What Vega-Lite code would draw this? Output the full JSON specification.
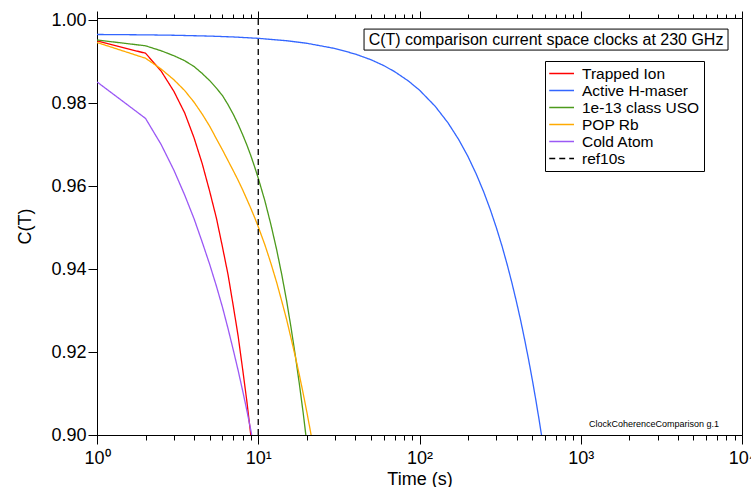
{
  "$schema": "https://vega.github.io/schema/vega-lite/v6.json",
  "autosize": {"type": "none"},
  "padding": {"left": 97, "top": 18, "right": 9, "bottom": 52},
  "width": 645,
  "height": 417,
  "background": "white",
  "config": {
    "font": "Liberation Sans",
    "view": {"stroke": "black", "strokeWidth": 1},
    "axis": {"domainColor": "black", "tickColor": "black", "labelColor": "black", "titleColor": "black", "grid": false, "labelFont": "Liberation Sans", "titleFont": "Liberation Sans", "titleFontWeight": "normal", "domainWidth": 1, "tickWidth": 1}
  },
  "data": {"values": [
    {"series": "Trapped Ion", "T": 1, "C": 0.9950},
    {"series": "Trapped Ion", "T": 2, "C": 0.9920},
    {"series": "Trapped Ion", "T": 2.5, "C": 0.9877},
    {"series": "Trapped Ion", "T": 3, "C": 0.9828},
    {"series": "Trapped Ion", "T": 3.5, "C": 0.9776},
    {"series": "Trapped Ion", "T": 4, "C": 0.9716},
    {"series": "Trapped Ion", "T": 4.5, "C": 0.9653},
    {"series": "Trapped Ion", "T": 5, "C": 0.9587},
    {"series": "Trapped Ion", "T": 5.5, "C": 0.9523},
    {"series": "Trapped Ion", "T": 6, "C": 0.9453},
    {"series": "Trapped Ion", "T": 6.5, "C": 0.9386},
    {"series": "Trapped Ion", "T": 7, "C": 0.9311},
    {"series": "Trapped Ion", "T": 7.5, "C": 0.9239},
    {"series": "Trapped Ion", "T": 8, "C": 0.9159},
    {"series": "Trapped Ion", "T": 8.5, "C": 0.9081},
    {"series": "Trapped Ion", "T": 9, "C": 0.8998},
    {"series": "Active H-maser", "T": 1, "C": 0.99653},
    {"series": "Active H-maser", "T": 2, "C": 0.99644},
    {"series": "Active H-maser", "T": 3, "C": 0.99634},
    {"series": "Active H-maser", "T": 5, "C": 0.99614},
    {"series": "Active H-maser", "T": 7, "C": 0.99593},
    {"series": "Active H-maser", "T": 10, "C": 0.9956},
    {"series": "Active H-maser", "T": 15, "C": 0.99502},
    {"series": "Active H-maser", "T": 20, "C": 0.99441},
    {"series": "Active H-maser", "T": 30, "C": 0.99314},
    {"series": "Active H-maser", "T": 40, "C": 0.99181},
    {"series": "Active H-maser", "T": 50, "C": 0.99044},
    {"series": "Active H-maser", "T": 60, "C": 0.98903},
    {"series": "Active H-maser", "T": 70, "C": 0.98759},
    {"series": "Active H-maser", "T": 85, "C": 0.98537},
    {"series": "Active H-maser", "T": 100, "C": 0.98311},
    {"series": "Active H-maser", "T": 125, "C": 0.97924},
    {"series": "Active H-maser", "T": 150, "C": 0.97527},
    {"series": "Active H-maser", "T": 175, "C": 0.97121},
    {"series": "Active H-maser", "T": 200, "C": 0.96708},
    {"series": "Active H-maser", "T": 225, "C": 0.96287},
    {"series": "Active H-maser", "T": 250, "C": 0.95861},
    {"series": "Active H-maser", "T": 275, "C": 0.95429},
    {"series": "Active H-maser", "T": 300, "C": 0.94991},
    {"series": "Active H-maser", "T": 325, "C": 0.94551},
    {"series": "Active H-maser", "T": 350, "C": 0.94103},
    {"series": "Active H-maser", "T": 375, "C": 0.93652},
    {"series": "Active H-maser", "T": 400, "C": 0.93197},
    {"series": "Active H-maser", "T": 425, "C": 0.92742},
    {"series": "Active H-maser", "T": 450, "C": 0.92277},
    {"series": "Active H-maser", "T": 475, "C": 0.91814},
    {"series": "Active H-maser", "T": 500, "C": 0.91345},
    {"series": "Active H-maser", "T": 525, "C": 0.90873},
    {"series": "Active H-maser", "T": 550, "C": 0.90399},
    {"series": "Active H-maser", "T": 575, "C": 0.89924},
    {"series": "1e-13 class USO", "T": 1, "C": 0.9952},
    {"series": "1e-13 class USO", "T": 2, "C": 0.9938},
    {"series": "1e-13 class USO", "T": 2.5, "C": 0.9926},
    {"series": "1e-13 class USO", "T": 3, "C": 0.9914},
    {"series": "1e-13 class USO", "T": 3.5, "C": 0.9902},
    {"series": "1e-13 class USO", "T": 4, "C": 0.9888},
    {"series": "1e-13 class USO", "T": 4.5, "C": 0.9871},
    {"series": "1e-13 class USO", "T": 5, "C": 0.9854},
    {"series": "1e-13 class USO", "T": 5.5, "C": 0.9836},
    {"series": "1e-13 class USO", "T": 6, "C": 0.9818},
    {"series": "1e-13 class USO", "T": 6.5, "C": 0.9796},
    {"series": "1e-13 class USO", "T": 7, "C": 0.9773},
    {"series": "1e-13 class USO", "T": 7.5, "C": 0.9749},
    {"series": "1e-13 class USO", "T": 8, "C": 0.9724},
    {"series": "1e-13 class USO", "T": 8.5, "C": 0.9699},
    {"series": "1e-13 class USO", "T": 9, "C": 0.9673},
    {"series": "1e-13 class USO", "T": 9.5, "C": 0.9646},
    {"series": "1e-13 class USO", "T": 10, "C": 0.9619},
    {"series": "1e-13 class USO", "T": 11, "C": 0.9564},
    {"series": "1e-13 class USO", "T": 12, "C": 0.9506},
    {"series": "1e-13 class USO", "T": 13, "C": 0.9447},
    {"series": "1e-13 class USO", "T": 14, "C": 0.9386},
    {"series": "1e-13 class USO", "T": 15, "C": 0.9323},
    {"series": "1e-13 class USO", "T": 16, "C": 0.9257},
    {"series": "1e-13 class USO", "T": 17, "C": 0.9190},
    {"series": "1e-13 class USO", "T": 18, "C": 0.9122},
    {"series": "1e-13 class USO", "T": 19, "C": 0.9053},
    {"series": "1e-13 class USO", "T": 20, "C": 0.8981},
    {"series": "POP Rb", "T": 1, "C": 0.9946},
    {"series": "POP Rb", "T": 2, "C": 0.9908},
    {"series": "POP Rb", "T": 2.5, "C": 0.9882},
    {"series": "POP Rb", "T": 3, "C": 0.9856},
    {"series": "POP Rb", "T": 3.5, "C": 0.9830},
    {"series": "POP Rb", "T": 4, "C": 0.9802},
    {"series": "POP Rb", "T": 4.5, "C": 0.9773},
    {"series": "POP Rb", "T": 5, "C": 0.9744},
    {"series": "POP Rb", "T": 5.5, "C": 0.9714},
    {"series": "POP Rb", "T": 6, "C": 0.9687},
    {"series": "POP Rb", "T": 6.5, "C": 0.9661},
    {"series": "POP Rb", "T": 7, "C": 0.9637},
    {"series": "POP Rb", "T": 7.5, "C": 0.9614},
    {"series": "POP Rb", "T": 8, "C": 0.9591},
    {"series": "POP Rb", "T": 8.5, "C": 0.9568},
    {"series": "POP Rb", "T": 9, "C": 0.9546},
    {"series": "POP Rb", "T": 9.5, "C": 0.9524},
    {"series": "POP Rb", "T": 10, "C": 0.9502},
    {"series": "POP Rb", "T": 11, "C": 0.9458},
    {"series": "POP Rb", "T": 12, "C": 0.9413},
    {"series": "POP Rb", "T": 13, "C": 0.9368},
    {"series": "POP Rb", "T": 14, "C": 0.9322},
    {"series": "POP Rb", "T": 15, "C": 0.9278},
    {"series": "POP Rb", "T": 16, "C": 0.9232},
    {"series": "POP Rb", "T": 17, "C": 0.9188},
    {"series": "POP Rb", "T": 18, "C": 0.9144},
    {"series": "POP Rb", "T": 19, "C": 0.9100},
    {"series": "POP Rb", "T": 20, "C": 0.9056},
    {"series": "POP Rb", "T": 21, "C": 0.9012},
    {"series": "POP Rb", "T": 22, "C": 0.8969},
    {"series": "Cold Atom", "T": 1, "C": 0.9851},
    {"series": "Cold Atom", "T": 2, "C": 0.9763},
    {"series": "Cold Atom", "T": 2.5, "C": 0.9700},
    {"series": "Cold Atom", "T": 3, "C": 0.9638},
    {"series": "Cold Atom", "T": 3.5, "C": 0.9578},
    {"series": "Cold Atom", "T": 4, "C": 0.9521},
    {"series": "Cold Atom", "T": 4.5, "C": 0.9464},
    {"series": "Cold Atom", "T": 5, "C": 0.9411},
    {"series": "Cold Atom", "T": 5.5, "C": 0.9359},
    {"series": "Cold Atom", "T": 6, "C": 0.9308},
    {"series": "Cold Atom", "T": 6.5, "C": 0.9256},
    {"series": "Cold Atom", "T": 7, "C": 0.9205},
    {"series": "Cold Atom", "T": 7.5, "C": 0.9156},
    {"series": "Cold Atom", "T": 8, "C": 0.9107},
    {"series": "Cold Atom", "T": 8.5, "C": 0.9059},
    {"series": "Cold Atom", "T": 9, "C": 0.9011},
    {"series": "Cold Atom", "T": 10, "C": 0.8910},
    {"series": "ref10s", "T": 10, "C": 0.9},
    {"series": "ref10s", "T": 10, "C": 1.0005}
  ]},
  "layer": [
    {
      "mark": {"type": "line", "clip": true, "strokeWidth": 1.3},
      "encoding": {
        "x": {"field": "T", "type": "quantitative",
          "scale": {"type": "log", "domain": [1, 10000], "nice": false},
          "axis": {"orient": "bottom", "title": "Time (s)", "titleFontSize": 18, "titleBaseline": "alphabetic", "titleY": 49,
            "values": [1,2,3,4,5,6,7,8,9,10,20,30,40,50,60,70,80,90,100,200,300,400,500,600,700,800,900,1000,2000,3000,4000,5000,6000,7000,8000,9000,10000],
            "labelExpr": "indexof([1,10,100,1000,10000], datum.value) >= 0 ? '10' + ['⁰','¹','²','³','⁴'][round(log(datum.value)/LN10)] : ''",
            "labelFontSize": 18, "labelOverlap": false, "labelFlush": false, "labelBound": false, "labelPadding": 5,
            "tickSize": {"condition": {"test": "indexof([1,10,100,1000,10000], datum.value) >= 0", "value": 9}, "value": 5}}},
        "y": {"field": "C", "type": "quantitative",
          "scale": {"domain": [0.9, 1.0005], "nice": false, "zero": false},
          "axis": {"title": "C(T)", "titleFontSize": 18, "titleX": -72, "titleY": 208, "titleBaseline": "middle", "titleAlign": "center",
            "values": [0.9, 0.92, 0.94, 0.96, 0.98, 1.0], "format": ".2f", "labelFontSize": 18, "tickSize": 9, "labelPadding": 2}},
        "color": {"field": "series", "type": "nominal",
          "scale": {"domain": ["Trapped Ion", "Active H-maser", "1e-13 class USO", "POP Rb", "Cold Atom", "ref10s"],
                    "range": ["#ff0000", "#3366ff", "#4c9a1c", "#ffaa00", "#9b59f5", "#000000"]},
          "legend": {"title": null, "orient": "none", "legendX": 448, "legendY": 43, "strokeColor": "black", "fillColor": "white", "padding": 4, "cornerRadius": 0,
            "symbolType": "M-1.1,0H2.2", "symbolSize": 225, "symbolStrokeWidth": 1.5, "labelFontSize": 15.5, "labelFont": "Liberation Sans", "labelColor": "black", "labelOffset": 16, "rowPadding": -1}},
        "strokeDash": {"field": "series", "type": "nominal",
          "scale": {"domain": ["Trapped Ion", "Active H-maser", "1e-13 class USO", "POP Rb", "Cold Atom", "ref10s"],
                    "range": [[1, 0], [1, 0], [1, 0], [1, 0], [1, 0], [6, 4]]},
          "legend": {"title": null, "orient": "none", "legendX": 448, "legendY": 43, "strokeColor": "black", "fillColor": "white", "padding": 4, "cornerRadius": 0,
            "symbolType": "M-1.1,0H2.2", "symbolSize": 225, "symbolStrokeWidth": 1.5, "labelFontSize": 15.5, "labelFont": "Liberation Sans", "labelColor": "black", "labelOffset": 16, "rowPadding": -1}}
      }
    },
    {
      "data": {"values": [{}]},
      "mark": {"type": "rect", "fill": "white", "stroke": "black", "strokeWidth": 1},
      "encoding": {
        "x": {"datum": 45.3, "type": "quantitative", "scale": {"type": "log", "domain": [1, 10000], "nice": false},
          "axis": {"orient": "top", "title": null, "labels": false, "domain": false,
            "values": [1,2,3,4,5,6,7,8,9,10,20,30,40,50,60,70,80,90,100,200,300,400,500,600,700,800,900,1000,2000,3000,4000,5000,6000,7000,8000,9000,10000],
            "tickSize": {"condition": {"test": "indexof([1,10,100,1000,10000], datum.value) >= 0", "value": 7}, "value": 4}}},
        "x2": {"datum": 8190},
        "y": {"datum": 0.99783, "type": "quantitative"},
        "y2": {"datum": 0.99277}
      }
    },
    {
      "data": {"values": [{}]},
      "mark": {"type": "text", "text": "C(T) comparison current space clocks at 230 GHz", "fontSize": 16, "align": "center", "baseline": "middle", "color": "black", "font": "Liberation Sans"},
      "encoding": {
        "x": {"datum": 609, "type": "quantitative", "axis": null},
        "y": {"datum": 0.9953, "type": "quantitative"}
      }
    },
    {
      "data": {"values": [{}]},
      "mark": {"type": "text", "text": "ClockCoherenceComparison g.1", "fontSize": 9, "align": "right", "baseline": "middle", "color": "black", "font": "Liberation Sans"},
      "encoding": {
        "x": {"datum": 7200, "type": "quantitative", "axis": null},
        "y": {"datum": 0.90265, "type": "quantitative"}
      }
    }
  ],
  "resolve": {"axis": {"x": "independent"}}
}
